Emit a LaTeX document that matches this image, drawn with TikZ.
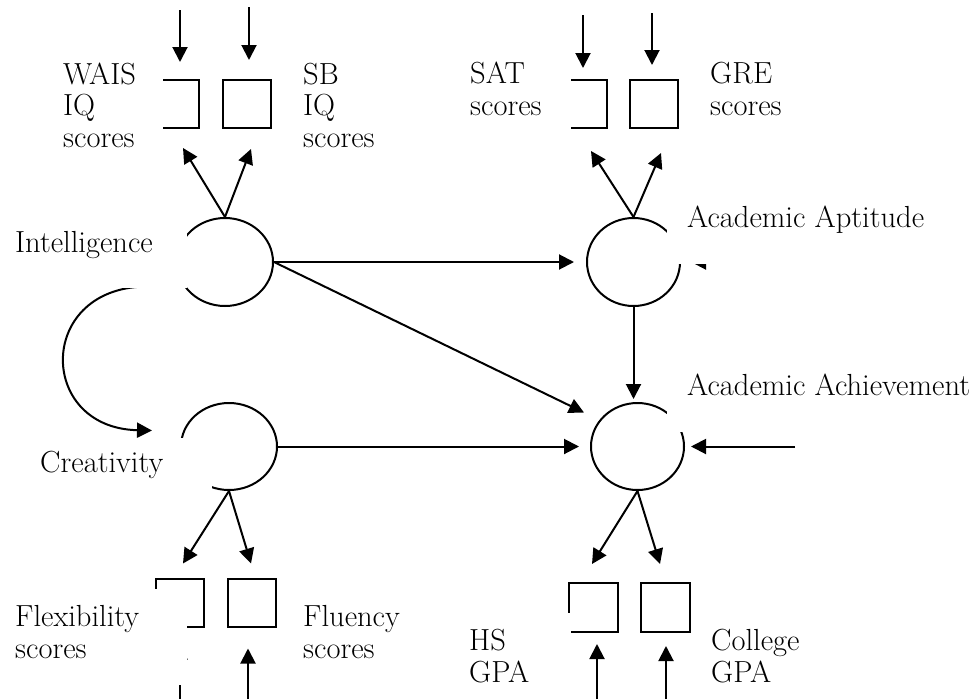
\documentclass[tikz,border=0pt]{standalone}
\usetikzlibrary{arrows.meta,shapes.geometric,calc}
\begin{document}
\begin{tikzpicture}[x=1pt,y=-1pt,
  lw/.style={line width=2pt},
  lat/.style={draw,lw,ellipse,inner sep=0pt},
  obs/.style={draw,lw,rectangle,minimum size=48pt,inner sep=0pt},
  arr/.style={lw,-{Triangle[length=15pt,width=15pt]}},
  cover/.style={fill=white},
  lbl/.style={anchor=base west,inner sep=0pt,align=left,font=\fontsize{30.5}{31.5}\selectfont}]
\useasboundingbox (0,0) rectangle (977,699);
\fill[white] (0,0) rectangle (977,699);
% latent variables
\node[lat,minimum width=96pt,minimum height=88pt] (int) at (225,262) {};
\node[lat,minimum width=96pt,minimum height=87pt] (cre) at (229,446.5) {};
\node[lat,minimum width=93pt,minimum height=88pt] (apt) at (633.5,262) {};
\node[lat,minimum width=93pt,minimum height=87pt] (ach) at (637.5,446.5) {};
% observed variables
\node[obs] (wais) at (175,104) {};
\node[obs] (sb) at (247,104) {};
\node[obs] (sat) at (583,104) {};
\node[obs] (gre) at (654,104) {};
\node[obs] (flex) at (180,602.5) {};
\node[obs] (flu) at (252,602.5) {};
\node[obs,minimum size=49pt] (hs) at (593.5,607.5) {};
\node[obs,minimum size=49pt] (col) at (665.5,607.5) {};
% free ends
\coordinate (d1) at (180,10);
\coordinate (d2) at (249,7);
\coordinate (d3) at (583,15);
\coordinate (d4) at (652,13);
\coordinate (u1) at (180,699);
\coordinate (u2) at (248,699);
\coordinate (u3) at (597,699);
\coordinate (u4) at (666,699);
\coordinate (r1) at (850,262);
\coordinate (r2) at (795,446.5);
\coordinate (cv) at (150,286.5);
% loadings
\draw[arr] (int.north) -- ($(wais.south)+(8,19)$);
\draw[arr] (int.north) -- ($(sb.south)+(4,20)$);
\draw[arr] (apt.north) -- ($(sat.south)+(8,22)$);
\draw[arr] (apt.north) -- ($(gre.south)+(7,24)$);
\draw[arr] (cre.south) -- ($(flex.north)+(3,-14)$);
\draw[arr] (cre.south) -- ($(flu.north)+(-1,-14)$);
\draw[arr] (ach.south) -- ($(hs.north)+(-1.5,-18)$);
\draw[arr] (ach.south) -- ($(col.north)+(-5.5,-18)$);
% structural paths
\draw[arr] (int.east) -- ($(apt.west)+(-12,0)$);
\draw[arr] (int.east) -- ($(ach.west)+(-6,-34)$);
\draw[arr] (cre.east) -- ($(ach.west)+(-11,0)$);
\draw[arr] (apt.south) -- ($(apt.south |- ach.north)+(0,-3)$);
\draw[arr] (r2) -- ($(ach.east)+(6,0)$);
\draw[arr] (r1) -- ($(apt.east)+(10,0)$);
\draw[arr] (int.205) -- (cv) .. controls (36,284.5) and (36,428) .. ($(cre.west)+(-28,-16)$);
% error arrows
\draw[arr] (d1) -- ($(wais.north)+(5,-17)$);
\draw[arr] (d2) -- ($(sb.north)+(2,-19)$);
\draw[arr] (d3) -- ($(sat.north)+(0,-11)$);
\draw[arr] (d4) -- ($(gre.north)+(-2,-14)$);
\draw[arr] (u1) -- ($(flex.south)+(0,17)$);
\draw[arr] (u2) -- ($(flu.south)+(-4,21)$);
\draw[arr] (u3) -- ($(hs.south)+(3.5,11)$);
\draw[arr] (u4) -- ($(col.south)+(0.5,13)$);
% opaque label areas
\fill[cover] (50,55) rectangle (163,155);
\fill[cover] (455,55) rectangle (571,130);
\fill[cover] (5,225) rectangle (187,288);
\fill[cover] (667,195) rectangle (975,263.5);
\fill[cover] (667,365) rectangle (975,432);
\fill[cover] (30,438) rectangle (212,495);
\fill[cover] (5,589) rectangle (187,685);
\fill[cover] (455,613) rectangle (571,699);
% labels
\node[lbl] (twais) at (63,147) {WAIS\\IQ\\scores};
\node[lbl] (tsb) at (303,147) {SB\\IQ\\scores};
\node[lbl] (tsat) at (470,115) {SAT\\scores};
\node[lbl] (tgre) at (710,115) {GRE\\scores};
\node[lbl] (tint) at (15,252) {Intelligence};
\node[lbl] (tapt) at (687,227) {Academic Aptitude};
\node[lbl] (tach) at (687,395) {Academic Achievement};
\node[lbl] (tcre) at (40,472) {Creativity};
\node[lbl] (tflex) at (15,658) {Flexibility\\scores};
\node[lbl] (tflu) at (303,658) {Fluency\\scores};
\node[lbl] (ths) at (469,682) {HS\\GPA};
\node[lbl] (tcol) at (711,682) {College\\GPA};
\end{tikzpicture}
\end{document}
